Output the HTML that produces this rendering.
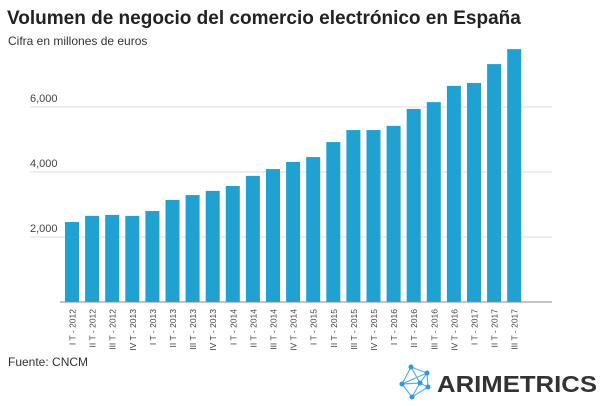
<!DOCTYPE html>
<html><head><meta charset="utf-8"><style>
body{margin:0;background:#fff;width:602px;height:401px;overflow:hidden;font-family:"Liberation Sans",sans-serif}
</style></head><body>
<svg width="602" height="401" id="c">
<text x="7" y="24" font-size="19" font-weight="bold" fill="#222">Volumen de negocio del comercio electrónico en España</text>
<text x="8" y="45" font-size="12" fill="#333">Cifra en millones de euros</text>
<text x="8" y="366" font-size="12" fill="#333">Fuente: CNCM</text>
<g>
<g stroke="#5aaee8" stroke-width="1.2" fill="none">
<path d="M411,367 L427,373 L420,383 L402,384 Z M411,367 L420,383 M402,384 L427,373 M420,383 L428,387 L412,397 L402,384 M427,373 L428,387 M412,397 L420,383"/>
</g>
<g fill="#2e9ae6"><circle cx="411" cy="367" r="2.5"/><circle cx="427" cy="373" r="2.5"/><circle cx="420" cy="383" r="2.5"/><circle cx="402" cy="384" r="2.5"/><circle cx="428" cy="387" r="2.5"/><circle cx="412" cy="397" r="2.5"/></g>
<text x="437" y="392" font-size="23" fill="#333" font-weight="600" textLength="160" lengthAdjust="spacingAndGlyphs">ARIMETRICS</text>
</g>
<g id="plot"></g>
</svg>
<script>
const categories=["I T - 2012","II T - 2012","III T - 2012","IV T - 2013","I T - 2013","II T - 2013","III T - 2013","IV T - 2013","I T - 2014","II T - 2014","III T - 2014","IV T - 2014","I T - 2015","II T - 2015","III T - 2015","IV T - 2015","I T - 2016","II T - 2016","III T - 2016","IV T - 2016","I T - 2017","II T - 2017","III T - 2017"];
const values=[2460,2650,2680,2650,2800,3140,3290,3420,3570,3880,4090,4310,4460,4920,5290,5290,5420,5940,6150,6650,6740,7320,7780];
const ticks=[2000,4000,6000];
const tickLabels=["2,000","4,000","6,000"];
const NS="http://www.w3.org/2000/svg";
const g=document.getElementById('plot');
const y=v=>302-v*0.0325;
const x=i=>65+i*20.1;
function mk(t,a){const e=document.createElementNS(NS,t);for(const k in a)e.setAttribute(k,a[k]);g.appendChild(e);return e;}
ticks.forEach((t,i)=>{
 const l=mk('line',{x1:30,x2:552,y1:y(t),y2:y(t),stroke:'#ddd','stroke-width':1});
 
 
 const tx=mk('text',{x:30,y:y(t)-5,'font-size':11,fill:'#444'});
 tx.textContent=tickLabels[i];
 
 
});
values.forEach((v,i)=>{
 const r=mk('rect',{x:x(i),y:y(v),width:14,height:302-y(v),fill:'#1fa1d1'});
 
 
 const cx=x(i)+7+3.5;
 const t=mk('text',{x:0,y:0,'font-size':8.5,fill:'#444','text-anchor':'end',transform:`translate(${cx},309) rotate(-90)`});
 t.textContent=categories[i];
 
 
});
const b=mk('line',{x1:60,x2:552,y1:302,y2:302,stroke:'#888','stroke-width':1});


</script>
</body></html>
